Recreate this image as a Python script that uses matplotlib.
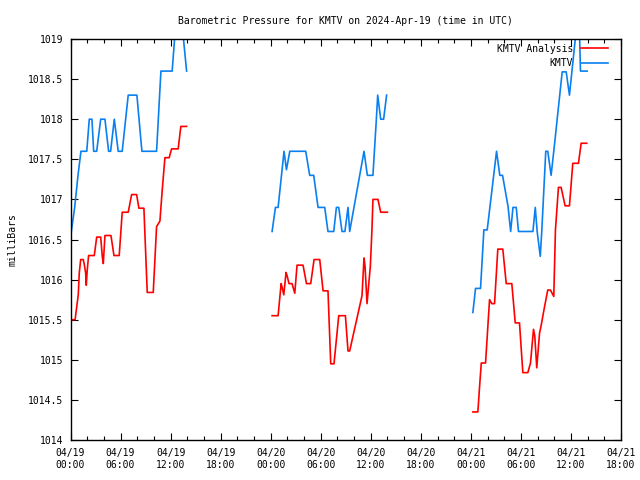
import numpy as np
import matplotlib
matplotlib.use("Agg")
import matplotlib.pyplot as plt

# ---- data (hours since 2024-04-19 00:00 UTC, pressure in mb) ----
blue1_h = [0.1, 0.5, 0.9, 1.25, 1.95, 2.25, 2.57, 2.78, 3.14, 3.62, 4.13, 4.57, 4.81, 5.25, 5.72, 6.2, 6.92, 7.96, 8.56, 10.32, 10.84, 12.19, 12.55, 13.45, 13.92]
blue1_v = [1016.6, 1016.9, 1017.3, 1017.6, 1017.6, 1018.0, 1018.0, 1017.6, 1017.6, 1018.0, 1018.0, 1017.6, 1017.6, 1018.0, 1017.6, 1017.6, 1018.3, 1018.3, 1017.6, 1017.6, 1018.6, 1018.6, 1019.1, 1019.1, 1018.6]

red1_h = [0.0, 0.55, 0.93, 1.05, 1.22, 1.53, 1.65, 1.82, 1.89, 2.0, 2.17, 2.85, 3.14, 3.62, 3.81, 3.93, 4.13, 4.85, 5.21, 5.84, 6.2, 6.92, 7.33, 7.93, 8.2, 8.8, 9.2, 9.92, 10.32, 10.72, 11.0, 11.32, 11.83, 12.12, 12.91, 13.23, 13.92]
red1_v = [1015.5, 1015.5, 1015.81, 1016.08, 1016.25, 1016.25, 1016.19, 1016.08, 1015.93, 1016.11, 1016.3, 1016.3, 1016.53, 1016.53, 1016.29, 1016.2, 1016.55, 1016.55, 1016.3, 1016.3, 1016.84, 1016.84, 1017.06, 1017.06, 1016.89, 1016.89, 1015.84, 1015.84, 1016.66, 1016.73, 1017.12, 1017.52, 1017.52, 1017.63, 1017.63, 1017.91, 1017.91]

blue2_h = [24.17, 24.57, 24.89, 25.6, 25.89, 26.29, 28.2, 28.68, 29.16, 29.68, 30.48, 30.87, 31.56, 31.88, 32.16, 32.55, 32.9, 33.27, 33.47, 35.19, 35.59, 36.26, 36.67, 36.83, 37.19, 37.54, 37.9]
blue2_v = [1016.6, 1016.9, 1016.9, 1017.6, 1017.37, 1017.6, 1017.6, 1017.3, 1017.3, 1016.9, 1016.9, 1016.6, 1016.6, 1016.9, 1016.9, 1016.6, 1016.6, 1016.9, 1016.6, 1017.6, 1017.3, 1017.3, 1018.0, 1018.3, 1018.0, 1018.0, 1018.3]

red2_h = [24.17, 24.89, 25.18, 25.25, 25.38, 25.57, 25.84, 25.96, 26.2, 26.56, 26.89, 27.16, 27.88, 28.29, 28.8, 29.2, 29.88, 30.28, 30.87, 31.2, 31.59, 32.16, 32.96, 33.27, 33.47, 34.95, 35.19, 35.31, 35.55, 35.95, 36.14, 36.26, 36.86, 37.19, 37.99]
red2_v = [1015.55, 1015.55, 1015.87, 1015.95, 1015.9, 1015.81, 1016.09, 1016.05, 1015.95, 1015.95, 1015.83, 1016.18, 1016.18, 1015.95, 1015.95, 1016.25, 1016.25, 1015.86, 1015.86, 1014.95, 1014.95, 1015.55, 1015.55, 1015.11, 1015.11, 1015.8, 1016.27, 1016.17, 1015.7, 1016.17, 1016.62, 1017.0, 1017.0, 1016.84, 1016.84]

blue3_h = [48.24, 48.56, 49.16, 49.56, 49.96, 51.08, 51.47, 51.8, 52.46, 52.77, 53.05, 53.44, 53.71, 55.44, 55.72, 55.95, 56.32, 56.5, 56.98, 57.22, 57.62, 57.94, 58.95, 59.43, 59.82, 60.62, 61.02, 61.14, 61.94]
blue3_v = [1015.59, 1015.89, 1015.89, 1016.62, 1016.62, 1017.6, 1017.3, 1017.3, 1016.91, 1016.6, 1016.9, 1016.9, 1016.6, 1016.6, 1016.9, 1016.6, 1016.29, 1016.6, 1017.6, 1017.6, 1017.3, 1017.6, 1018.59, 1018.59, 1018.3, 1019.1, 1019.1, 1018.6, 1018.6]

red3_h = [48.24, 48.84, 49.04, 49.25, 49.76, 50.24, 50.51, 50.84, 51.23, 51.83, 52.24, 52.91, 53.32, 53.83, 54.23, 54.83, 55.15, 55.51, 55.66, 55.9, 56.23, 56.43, 56.83, 57.22, 57.54, 57.94, 58.14, 58.5, 58.82, 59.3, 59.82, 60.22, 60.9, 61.22, 61.89]
red3_v = [1014.35, 1014.35, 1014.66, 1014.96, 1014.96, 1015.75, 1015.7, 1015.7, 1016.38, 1016.38, 1015.95, 1015.95, 1015.46, 1015.46, 1014.84, 1014.84, 1014.96, 1015.38, 1015.3, 1014.9, 1015.33, 1015.43, 1015.66, 1015.87, 1015.87, 1015.79, 1016.62, 1017.15, 1017.15, 1016.92, 1016.92, 1017.45, 1017.45, 1017.7, 1017.7]

xtick_hours = list(range(0, 67, 6))
xtick_labels = ["04/19\n00:00", "04/19\n06:00", "04/19\n12:00", "04/19\n18:00",
                "04/20\n00:00", "04/20\n06:00", "04/20\n12:00", "04/20\n18:00",
                "04/21\n00:00", "04/21\n06:00", "04/21\n12:00", "04/21\n18:00"]
ytick_vals = [1014, 1014.5, 1015, 1015.5, 1016, 1016.5, 1017, 1017.5, 1018, 1018.5, 1019]
ytick_labels = ["1014", "1014.5", "1015", "1015.5", "1016", "1016.5", "1017", "1017.5", "1018", "1018.5", "1019"]


def join(segs_h, segs_v):
    hh, vv = [], []
    for h, v in zip(segs_h, segs_v):
        hh += list(h) + [np.nan]
        vv += list(v) + [np.nan]
    return np.array(hh), np.array(vv)


red_h, red_v = join([red1_h, red2_h, red3_h], [red1_v, red2_v, red3_v])
blue_h, blue_v = join([blue1_h, blue2_h, blue3_h], [blue1_v, blue2_v, blue3_v])

plt.rcParams['font.family'] = ['DejaVu Sans Mono']
plt.rcParams['font.size'] = 7

fig = plt.figure(figsize=(6.4, 4.8), dpi=100)
ax = fig.add_axes([70.5 / 640, 40 / 480, 550.5 / 640, 401 / 480])

ax.plot(red_h, red_v, color='#ff0000', lw=1.2, label='KMTV Analysis')
ax.plot(blue_h, blue_v, color='#0a80f0', lw=1.2, label='KMTV')

ax.set_xlim(0, 66)
ax.set_ylim(1014, 1019)
ax.set_xticks(xtick_hours)
ax.set_xticklabels(xtick_labels)
ax.set_xticks(np.arange(0, 67, 2), minor=True)
ax.set_yticks(ytick_vals)
ax.set_yticklabels(ytick_labels)

ax.tick_params(axis='both', which='both', direction='in', top=True, right=True, color='black', width=0.8)
ax.tick_params(axis='x', which='major', length=5, pad=6)
ax.tick_params(axis='x', which='minor', length=3)
ax.tick_params(axis='y', which='major', length=5, pad=5)
for s in ax.spines.values():
    s.set_linewidth(1.0)
    s.set_color('black')

ax.set_ylabel('milliBars', labelpad=8)
ax.set_title('Barometric Pressure for KMTV on 2024-Apr-19 (time in UTC)', pad=11, fontsize=7)

leg = ax.legend(loc='upper right', bbox_to_anchor=(1 - 8 / 550.5, 1.0), frameon=False, markerfirst=False,
                handlelength=2.8, handletextpad=0.8, labelspacing=0.45,
                borderaxespad=0.2, borderpad=0.3, fontsize=7)

fig.savefig('out.png', dpi=100)
